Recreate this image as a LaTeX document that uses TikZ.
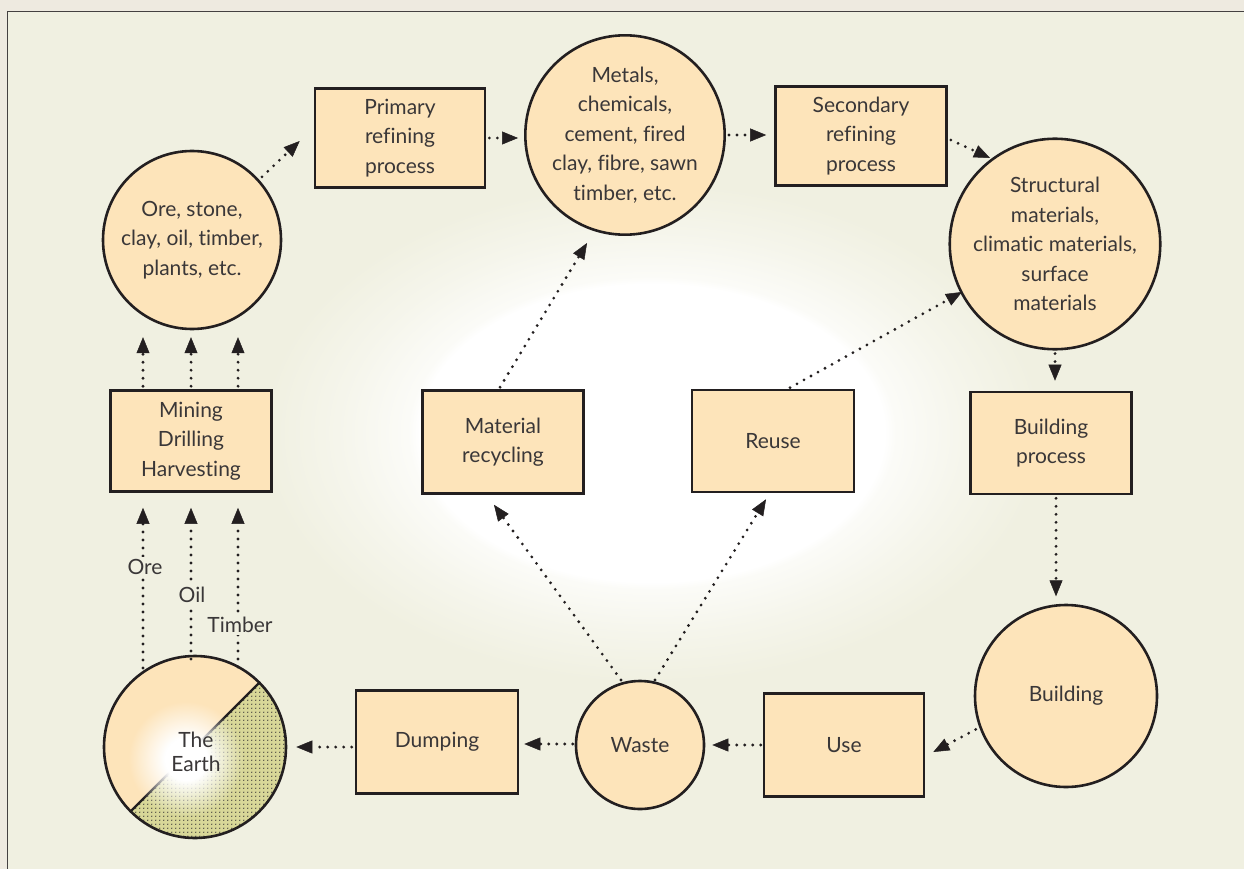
\documentclass[tikz,border=0pt]{standalone}
\usepackage{fontspec}
\setmainfont{Lato}[Ligatures={NoCommon,NoRare,NoContextual}]
\usetikzlibrary{arrows.meta,patterns.meta,fadings,calc}

\definecolor{pagebg}{RGB}{238,234,224}
\definecolor{panelbg}{RGB}{240,240,225}
\definecolor{peach}{RGB}{253,228,186}
\definecolor{olive}{RGB}{216,215,152}
\definecolor{ink}{RGB}{35,31,32}
\definecolor{txt}{RGB}{58,55,56}

% soft white halo in the middle of the panel (25bp = edge of the path)
\pgfdeclareradialshading{centreglow}{\pgfpointorigin}{%
  color(0bp)=(white); color(14.9bp)=(white); color(15.6bp)=(panelbg!25!white);
  color(20bp)=(panelbg!65!white); color(25bp)=(panelbg); color(50bp)=(panelbg)}

% glow in the core of the Earth disc
\pgfdeclareradialshading{earthglowshade}{\pgfpointorigin}{%
  color(0bp)=(white); color(9bp)=(white); color(24bp)=(black); color(50bp)=(black)}
\pgfdeclarefading{earthglow}{\pgfuseshading{earthglowshade}}

% stippled ground
\tikzdeclarepattern{name=grounddots, type=uncolored,
  bounding box={(-2.1pt,-2.1pt) and (2.1pt,2.1pt)},
  tile size={(4.2pt,4.2pt)},
  code={\fill (0pt,0pt) circle (0.85pt);}}

\tikzset{
  label font/.style={font=\fontsize{21}{29.5}\selectfont, text=txt},
  box/.style={label font, draw=ink, line width=2.6pt, fill=peach, align=center,
    inner sep=0pt},
  disc/.style={label font, circle, draw=ink, line width=2.6pt, fill=peach,
    align=center, inner sep=0pt},
  flow/.style={draw=ink, line width=3.1pt, line cap=round,
    dash pattern=on 0pt off 8pt,
    -{Triangle[length=16pt,width=13pt,line width=0.5pt]}},
  lab/.style={label font, fill=panelbg, inner sep=2pt},
}

\begin{document}
\begin{tikzpicture}[x=1pt,y=-1pt]
\useasboundingbox (0,0) rectangle (1244,869);

% page and panel
\fill[pagebg] (0,0) rectangle (1244,869);
\draw[fill=panelbg, draw=ink!85, line width=1.6pt] (7.5,11.5) rectangle (1270,900);
\shade[shading=centreglow] (652,433) ellipse [x radius=390, y radius=250];

% raw materials branch
\node[disc, minimum size=178pt] (ore) at (192,240)
  {Ore, stone,\\clay, oil, timber,\\plants, etc.};
\node[box, minimum width=170pt, minimum height=99pt] (prim) at (400,138)
  {Primary\\refining\\process};
\node[disc, minimum size=168pt] (metals) at (625,135)
  {Metals,\\chemicals,\\cement, fired\\clay, fibre, sawn\\timber, etc.};
\node[box, minimum width=171pt, minimum height=99pt] (sec) at (861,136)
  {Secondary\\refining\\process};
\node[disc, minimum size=178pt] (struct) at (1055,244)
  {Structural\\materials,\\climatic materials,\\surface\\materials};
\node[box, minimum width=161pt, minimum height=102pt] (bproc) at (1051,443)
  {Building\\process};
\node[disc, minimum size=182pt] (bldg) at (1066,696) {Building};
\node[box, minimum width=160pt, minimum height=103pt] (use) at (844,745) {Use};
\node[disc, minimum size=128pt] (waste) at (640,745) {Waste};
\node[box, minimum width=162pt, minimum height=103pt] (dump) at (437,742) {Dumping};
\node[box, minimum width=161pt, minimum height=101pt] (mine) at (191,441)
  {Mining\\Drilling\\Harvesting};
\node[box, minimum width=161pt, minimum height=103pt] (recyc) at (503,442)
  {Material\\recycling};
\node[box, minimum width=162pt, minimum height=102pt] (reuse) at (773,441) {Reuse};

% the Earth: split disc, stippled ground half, bright core
\node[disc, minimum size=182pt,
  path picture={
    \fill[olive] (path picture bounding box.north east)
      -- (path picture bounding box.south west)
      -- (path picture bounding box.south east) -- cycle;
    \fill[pattern=grounddots, pattern color=ink!90]
      (path picture bounding box.north east)
      -- (path picture bounding box.south west)
      -- (path picture bounding box.south east) -- cycle;
    \draw[ink, line width=2.4pt] (path picture bounding box.north east)
      -- (path picture bounding box.south west);
    \fill[white, path fading=earthglow]
      ($(path picture bounding box.center)+(-9,12)$) circle (60);
  }] (earth) at (195,747) {};
\node[font=\fontsize{21}{24}\selectfont, text=txt, align=center, inner sep=0pt]
  (earthname) at ($(earth.center)+(1,5)$) {The\\Earth};

% production chain
\draw[flow, shorten <=4pt] (ore.42) -- ($(prim.west)+(-14,3)$);
\draw[flow, shorten <=3pt, shorten >=6pt] (prim.east) -- (prim.east -| metals.west);
\draw[flow, shorten <=3pt, shorten >=8pt] (metals.east) -- (metals.east -| sec.west);
\draw[flow] ($(sec.east)+(3,4)$) -- ($(struct.center)+(-65,-86)$);
\draw[flow, shorten <=3pt, shorten >=10pt] (struct.south) -- (struct.south |- bproc.north);
\draw[flow] ($(bproc.south)+(5,3)$) -- ($(bproc.south)+(5,101)$);
\draw[flow, shorten <=4pt] (bldg.200) -- ($(use.east)+(8,7)$);
\draw[flow, shorten <=2pt, shorten >=7pt] (use.west) -- (use.west -| waste.east);
\draw[flow, shorten <=2pt, shorten >=5pt] ($(waste.west)+(0,-1)$) -- ($(waste.west -| dump.east)+(0,-1)$);
\draw[flow, shorten <=3pt, shorten >=9pt] (dump.west |- earth.east) -- (earth.east);

% extraction from the Earth
\draw[flow] ($(earth.center)+(-52,-79)$) -- ($(mine.south)+(-48,15)$);
\draw[flow] ($(earth.center)+(-4,-88)$) -- ($(mine.south)+(0,15)$);
\draw[flow] ($(earth.center)+(43,-80)$) -- ($(mine.south)+(47,15)$);
\draw[flow] ($(mine.north)+(-48,-3)$) -- ($(mine.north)+(-48,-52)$);
\draw[flow] ($(mine.north)+(0,-3)$) -- ($(mine.north)+(0,-52)$);
\draw[flow] ($(mine.north)+(47,-3)$) -- ($(mine.north)+(47,-52)$);

% recovery loops
\draw[flow] ($(waste.center)+(-19,-65)$) -- ($(recyc.south)+(-9,10)$);
\draw[flow] ($(waste.center)+(15,-65)$) -- ($(reuse.south)+(-7,6)$);
\draw[flow] ($(recyc.north)+(-3,-2)$) -- ($(metals.center)+(-38,108)$);
\draw[flow] ($(reuse.north)+(17,-1)$) -- ($(struct.center)+(-93,48)$);

% resource labels
\node[lab] (lore) at (145,567) {Ore};
\node[lab] (loil) at (192,595) {Oil};
\node[lab] (ltimber) at (240,625) {Timber};
\end{tikzpicture}
\end{document}
